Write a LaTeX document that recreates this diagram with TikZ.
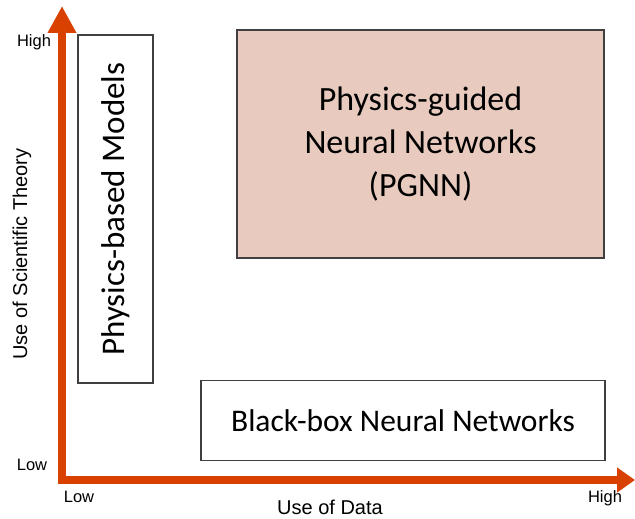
\documentclass[tikz,border=0pt]{standalone}
\usepackage{fontspec}
\setmainfont{Carlito}
\newfontfamily\labelfont{Liberation Sans}
\usetikzlibrary{arrows.meta}
\usetikzlibrary{positioning}
\definecolor{axisorange}{RGB}{217,65,0}
\definecolor{pgnnfill}{RGB}{232,203,190}
\definecolor{boxgray}{RGB}{64,64,64}

\tikzset{
  region/.style={draw=boxgray, line width=1.4pt, inner sep=0pt, align=center},
  ticklabel/.style={font=\labelfont\fontsize{16.5}{18}\selectfont, inner sep=0pt},
  axislabel/.style={font=\labelfont\fontsize{20}{22}\selectfont, inner sep=0pt},
  axis/.style={draw=axisorange, line width=8pt, miter limit=10,
    arrows={Triangle[width=27pt,length=27pt,fill=axisorange]-Triangle[width=24pt,length=18pt,fill=axisorange]}}
}

\begin{document}
\begin{tikzpicture}[x=1pt,y=-1pt]
	\useasboundingbox (0,0) rectangle (635,519);
	
	\coordinate (o) at (62,480);
	\coordinate (ytip) at (62,6);
	\coordinate (xtip) at (635,480);
	
	\draw[axis] (ytip) -- (o) -- (xtip);
	
	\node[region, minimum width=75pt, minimum height=348pt] (pbm) at (115.5,209) {};
	\node[rotate=90, font=\fontsize{33}{40}\selectfont] (pbmtext) at (pbm.center) {Physics-based Models};
	\node[region, fill=pgnnfill, minimum width=367pt, minimum height=228pt,
		font=\fontsize{34}{43}\selectfont] (pgnn) at (420.5,144)
		{Physics-guided\\Neural Networks\\(PGNN)};
	\node[region, minimum width=404pt, minimum height=80pt,
		font=\fontsize{31.5}{38}\selectfont] (bbnn) at (403,420.5)
		{Black-box Neural Networks};
	
	\node[ticklabel] (yhigh) at (34,42) {High};
	\node[ticklabel] (ylow) at (32,465) {Low};
	\node[ticklabel] (xlow) at (79,497) {Low};
	\node[ticklabel] (xhigh) at (605,498) {High};
	\node[axislabel, rotate=90] (ylabel) at (22,254) {Use of Scientific Theory};
	\node[axislabel] (xlabel) at (330,507) {Use of Data};
\end{tikzpicture}
\end{document}
